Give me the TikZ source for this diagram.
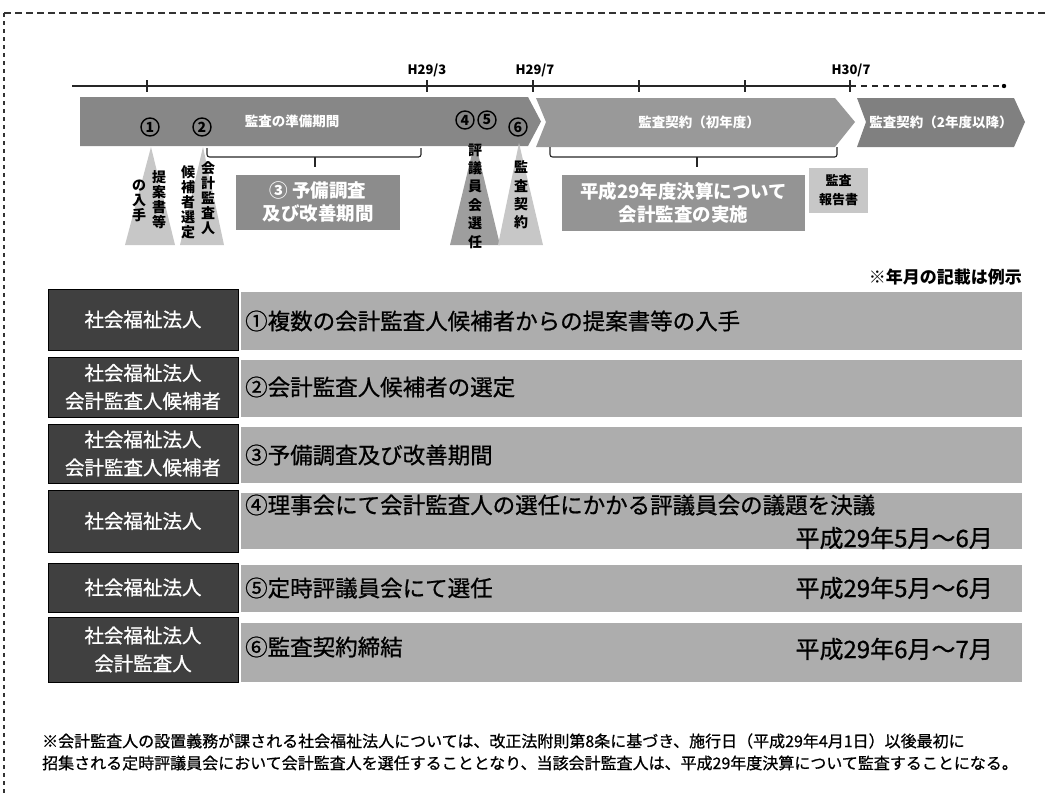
\documentclass[tikz,border=0pt]{standalone}
\usepackage{fontspec}
\setmainfont{Noto Sans CJK JP}
\newfontfamily\medfont{Noto Sans CJK JP}[FakeBold=0.8]
\newcommand{\fs}[1]{\fontsize{#1}{#1}\selectfont}
\begin{document}
\begin{tikzpicture}[x=1pt,y=-1pt,
  frameline/.style={line width=1.1pt, black!80},
  axis/.style={line width=1.1pt, black!85},
  tl/.style={font=\fs{13}\bfseries, inner sep=0pt},
  bandA/.style={fill=black!47},
  bandB/.style={fill=black!40},
  bandC/.style={fill=black!50},
  bandtxt/.style={text=white, font=\fs{13.5}\bfseries, inner sep=0pt},
  triL/.style={fill=black!22},
  triM/.style={fill=black!38},
  circnum/.style={circle, draw=black, line width=1.4pt, minimum size=18pt, inner sep=0pt, font=\fs{14}\bfseries},
  vt/.style={align=center, inner sep=0pt, font=\fontsize{14}{15}\selectfont\bfseries},
  vtw/.style={align=center, inner sep=0pt, font=\fontsize{14}{18.4}\selectfont\bfseries},
  brk/.style={line width=1.1pt, black!85, rounded corners=2.5pt},
  bigbox/.style={fill=black!45, text=white, align=center, inner sep=0pt, font=\fontsize{18.5}{23}\selectfont\bfseries},
  repbox/.style={fill=black!22, text=black, align=center, inner sep=0pt, font=\fontsize{13}{19}\selectfont\bfseries},
  lbox/.style={draw=black, line width=0.8pt, fill=black!75, text=white, align=center, inner sep=0pt, minimum width=190pt, font=\fontsize{19.5}{28}\selectfont\medfont},
  rband/.style={fill=black!32, inner sep=0pt, minimum width=781pt},
  rtxt/.style={anchor=west, inner sep=0pt, font=\fs{22.5}\medfont},
  dtxt/.style={anchor=east, inner sep=0pt, font=\fs{24}\medfont},
  foot/.style={anchor=west, inner sep=0pt, font=\fs{16}\medfont}
]
\useasboundingbox (0,0) rectangle (1049,796);

% dashed frame
\draw[frameline, dash pattern=on 7pt off 4pt] (4,13) -- (1049,13);
\draw[frameline, dash pattern=on 4pt off 4pt] (4,13) -- (4,796);

% timeline axis
\coordinate (ax0) at (72,86);
\coordinate (ax1) at (850,86);
\coordinate (ax2) at (1004,86);
\draw[axis] (ax0) -- (ax1);
\draw[axis, dash pattern=on 6pt off 5pt] (ax1) -- (ax2);
\fill[black] (ax2) circle (2.2);
\foreach \x in {147,427,533,639,745,850} \draw[axis] (\x,80) -- (\x,92);
\node[tl] (h293) at (427,70) {H29/3};
\node[tl] (h297) at (535,70) {H29/7};
\node[tl] (h307) at (851,70) {H30/7};

% chevron bands
\fill[bandA] (80,97) -- (528,97) -- (541,121.5) -- (528,146) -- (80,146) -- cycle;
\fill[bandB] (536,98) -- (835,98) -- (855,122) -- (835,147) -- (536,147) -- (546,122) -- cycle;
\fill[bandC] (857,98) -- (1014,98) -- (1025,122) -- (1014,147) -- (857,147) -- (866,122) -- cycle;
\node[bandtxt] (p1) at (292,121) {監査の準備期間};
\node[bandtxt] (p2) at (699,122) {監査契約（初年度）};
\node[bandtxt] (p3) at (941,122) {監査契約（2年度以降）};

% triangles
\fill[triL] (151,147) -- (175,245) -- (125,245) -- cycle;
\fill[triL] (203,147) -- (224,245) -- (180,245) -- cycle;
\fill[triM] (475,141) -- (500,245) -- (450,245) -- cycle;
\fill[triL] (519,143) -- (543,245) -- (498,245) -- cycle;

% circled numbers
\node[circnum] (c1) at (150,127) {1};
\node[circnum] (c2) at (202,127) {2};
\node[circnum] (c4) at (465,120) {4};
\node[circnum] (c5) at (487,120) {5};
\node[circnum] (c6) at (518,127) {6};

% vertical labels
\node[vt] (v1a) at (159,200) {提\\案\\書\\等};
\node[vt] (v1b) at (139,201) {の\\入\\手};
\node[vt] (v2a) at (208,198) {会\\計\\監\\査\\人};
\node[vt] (v2b) at (188,202) {候\\補\\者\\選\\定};
\node[vtw] (v45) at (475,196) {評\\議\\員\\会\\選\\任};
\node[vtw] (v6) at (521,195) {監\\査\\契\\約};

% brackets
\coordinate (b1l) at (207,148);
\coordinate (b1r) at (421,148);
\coordinate (b1m) at (315,157);
\draw[brk] (b1l) -- (207,157) -- (421,157) -- (b1r);
\draw[brk] (b1m) -- ++(0,10);
\coordinate (b2l) at (550,147);
\coordinate (b2r) at (837,147);
\coordinate (b2m) at (697,157);
\draw[brk] (b2l) -- (550,157) -- (837,157) -- (b2r);
\draw[brk] (b2m) -- ++(0,10);

% boxes below timeline
\node[bigbox, minimum width=164pt, minimum height=55pt] (box3) at (318,202.5) {③ 予備調査\\及び改善期間};
\node[bigbox, fill=black!42, minimum width=243pt, minimum height=56pt] (box29) at (683.5,203) {平成29年度決算について\\会計監査の実施};
\node[repbox, minimum width=59pt, minimum height=45pt] (rep) at (838.5,190.5) {監査\\報告書};

\node[anchor=east, inner sep=0pt, font=\fs{17}\bfseries] (note) at (1022,277) {※年月の記載は例示};

% rows
\node[lbox, minimum height=61pt] (L1) at (143,319.5) {社会福祉法人};
\node[rband, minimum height=58pt] (R1) at (631.5,321) {};
\node[rtxt] (T1) at (245,321) {①複数の会計監査人候補者からの提案書等の入手};

\node[lbox, minimum height=60pt] (L2) at (143,387) {社会福祉法人\\会計監査人候補者};
\node[rband, minimum height=57pt] (R2) at (631.5,388.5) {};
\node[rtxt] (T2) at (245,387) {②会計監査人候補者の選定};

\node[lbox, minimum height=59pt] (L3) at (143,453.5) {社会福祉法人\\会計監査人候補者};
\node[rband, minimum height=56pt] (R3) at (631.5,455) {};
\node[rtxt] (T3) at (245,455) {③予備調査及び改善期間};

\node[lbox, minimum height=62pt] (L4) at (143,521) {社会福祉法人};
\node[rband, minimum height=56pt] (R4) at (631.5,521) {};
\node[rtxt] (T4) at (245,505) {④理事会にて会計監査人の選任にかかる評議員会の議題を決議};
\node[dtxt] (D4) at (993,538) {平成29年5月～6月};

\node[lbox, minimum height=49pt] (L5) at (143,587.5) {社会福祉法人};
\node[rband, minimum height=47pt] (R5) at (631.5,588.5) {};
\node[rtxt] (T5) at (245,588) {⑤定時評議員会にて選任};
\node[dtxt] (D5) at (993,588) {平成29年5月～6月};

\node[lbox, minimum height=65pt] (L6) at (143,649.5) {社会福祉法人\\会計監査人};
\node[rband, minimum height=59pt] (R6) at (631.5,652.5) {};
\node[rtxt] (T6) at (245,647) {⑥監査契約締結};
\node[dtxt] (D6) at (993,649) {平成29年6月～7月};

% footnote
\node[foot] (f1) at (42,741) {※会計監査人の設置義務が課される社会福祉法人については、改正法附則第8条に基づき、施行日（平成29年4月1日）以後最初に};
\node[foot] (f2) at (42,763) {招集される定時評議員会において会計監査人を選任することとなり、当該会計監査人は、平成29年度決算について監査することになる。};
\end{tikzpicture}
\end{document}
